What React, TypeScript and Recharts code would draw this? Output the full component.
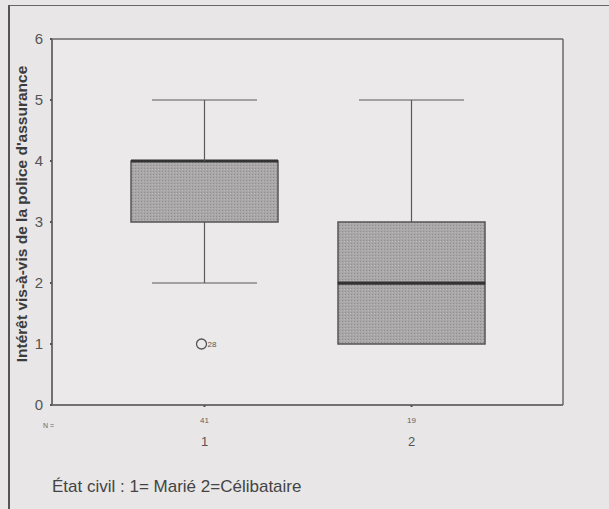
import React from 'react';
import {
  ComposedChart,
  Bar,
  Scatter,
  XAxis,
  YAxis,
  CartesianGrid,
} from 'recharts';

const groups = ['1', '2'];
const counts = [41, 19];
const mins = [2, 1];
const q1s = [3, 1];
const medians = [4, 2];
const q3s = [4, 3];
const maxs = [5, 5];
const outliers: (number | null)[] = [1, null];
const outlierCases = ['28', ''];
const yTicks = [0, 1, 2, 3, 4, 5, 6];

const data = groups.map((g, i) => ({
  group: g,
  n: counts[i],
  base: mins[i],
  lowWhisker: q1s[i] - mins[i],
  lowBox: medians[i] - q1s[i],
  highBox: q3s[i] - medians[i],
  highWhisker: maxs[i] - q3s[i],
  outlier: outliers[i],
  caseNo: outlierCases[i],
}));

const FONT = '"Liberation Sans", Arial, sans-serif';
const LINE = '#5a5a5a';
const FRAME = { stroke: '#6a6a6a', strokeWidth: 1.5 };
const CAP = 105;

// chart box
const W = 609;
const H = 509;
const M = { top: 39, right: 46, bottom: 54, left: 0 };
const Y_W = 52;
const X_H = 50;

const LowWhisker = (props: any) => {
  const { x, y, width, height } = props;
  if (!height) return null;
  const cx = x + width / 2;
  return (
    <g stroke={LINE} strokeWidth={1.2}>
      <line x1={cx} x2={cx} y1={y} y2={y + height} />
      <line x1={cx - CAP / 2} x2={cx + CAP / 2} y1={y + height} y2={y + height} />
    </g>
  );
};

const HighWhisker = (props: any) => {
  const { x, y, width, height } = props;
  if (!height) return null;
  const cx = x + width / 2;
  return (
    <g stroke={LINE} strokeWidth={1.2}>
      <line x1={cx} x2={cx} y1={y} y2={y + height} />
      <line x1={cx - CAP / 2} x2={cx + CAP / 2} y1={y} y2={y} />
    </g>
  );
};

const LowBox = (props: any) => {
  const { x, y, width, height } = props;
  return (
    <g>
      {height > 0 && (
        <rect x={x} y={y} width={width} height={height} fill="url(#stipple)" stroke="#555" strokeWidth={1.5} />
      )}
      <line x1={x} x2={x + width} y1={y} y2={y} stroke="#333" strokeWidth={3} />
    </g>
  );
};

const HighBox = (props: any) => {
  const { x, y, width, height } = props;
  if (!height) return null;
  return (
    <g>
      <rect x={x} y={y} width={width} height={height} fill="url(#stipple)" stroke="#555" strokeWidth={1.5} />
      <line x1={x} x2={x + width} y1={y + height} y2={y + height} stroke="#333" strokeWidth={3} />
    </g>
  );
};

const OutlierDot = (props: any) => {
  const { cx, cy, payload } = props;
  if (payload == null || payload.outlier == null || !isFinite(cy)) return null;
  return (
    <g>
      <circle cx={cx - 3} cy={cy} r={5} fill="none" stroke="#555" strokeWidth={1.3} />
      <text x={cx + 3} y={cy + 3} fontSize={8} fill="#555" fontFamily={FONT}>
        {payload.caseNo}
      </text>
    </g>
  );
};

const XTick = (props: any) => {
  const { x, y, payload, index } = props;
  return (
    <g>
      <text x={x} y={y + 14} textAnchor="middle" fontSize={8} fill="#5e5e5e" fontFamily={FONT}>
        {counts[index]}
      </text>
      <text x={x} y={y + 37} textAnchor="middle" fontSize={13} fill="#555" fontFamily={FONT}>
        {payload.value}
      </text>
    </g>
  );
};

export default function App() {
  const plotTop = M.top;
  const plotBottom = H - M.bottom - X_H;
  const plotLeft = M.left + Y_W;
  const plotRight = W - M.right;
  return (
    <div style={{ position: 'absolute', left: 0, top: 0, width: W, height: H, background: '#e8e6e6', overflow: 'hidden' }}>
      <div
        style={{
          position: 'absolute',
          left: 8,
          top: 5,
          width: 620,
          height: 520,
          borderLeft: '2px solid #555',
          borderTop: '1.5px solid #666',
        }}
      />
      <div style={{ position: 'absolute', left: 0, top: 0 }}>
        <ComposedChart width={W} height={H} data={data} margin={M}>
          <defs>
            <pattern id="stipple" width="3" height="3" patternUnits="userSpaceOnUse">
              <rect width="3" height="3" fill="#a9a7a7" />
              <rect width="1" height="1" fill="#8f8d8d" />
              <rect x="2" y="1" width="1" height="1" fill="#b9b7b7" />
            </pattern>
          </defs>
          <CartesianGrid
            fill="#ebe9e9"
            stroke="#6a6a6a"
            strokeWidth={1.5}
            horizontalPoints={[plotTop, plotBottom]}
            verticalPoints={[plotLeft, plotRight]}
          />
          <XAxis
            dataKey="group"
            type="category"
            padding={{ left: 49, right: 48 }}
            axisLine={FRAME}
            tickLine={{ stroke: '#555', strokeWidth: 2 }}
            tickSize={2}
            tick={<XTick />}
            height={X_H}
            interval={0}
          />
          <YAxis
            type="number"
            domain={[0, 6]}
            ticks={yTicks}
            width={Y_W}
            axisLine={FRAME}
            tickLine={{ stroke: '#555', strokeWidth: 2 }}
            tickSize={2}
            tickMargin={7}
            tick={{ fill: '#555', fontSize: 15, fontFamily: FONT }}
            allowDataOverflow
          />
          <Bar dataKey="base" stackId="box" fill="none" barSize={147} isAnimationActive={false} />
          <Bar dataKey="lowWhisker" stackId="box" barSize={147} shape={<LowWhisker />} isAnimationActive={false} />
          <Bar dataKey="lowBox" stackId="box" barSize={147} shape={<LowBox />} isAnimationActive={false} />
          <Bar dataKey="highBox" stackId="box" barSize={147} shape={<HighBox />} isAnimationActive={false} />
          <Bar dataKey="highWhisker" stackId="box" barSize={147} shape={<HighWhisker />} isAnimationActive={false} />
          <Scatter dataKey="outlier" shape={<OutlierDot />} isAnimationActive={false} />
        </ComposedChart>
      </div>
      <svg width={W} height={H} style={{ position: 'absolute', left: 0, top: 0, pointerEvents: 'none' }}>
        <text
          x={27}
          y={214}
          transform="rotate(-90 27 214)"
          textAnchor="middle"
          fontSize={15.5}
          fontWeight="bold"
          fill="#3c3c3c"
          fontFamily={FONT}
        >
          Intérêt vis-à-vis de la police d'assurance
        </text>
        <text x={43} y={428} fontSize={7} fill="#666" fontFamily={FONT}>
          N =
        </text>
        <text x={52} y={492} fontSize={17} fill="#444" fontFamily={FONT}>
          État civil : 1= Marié 2=Célibataire
        </text>
      </svg>
    </div>
  );
}
